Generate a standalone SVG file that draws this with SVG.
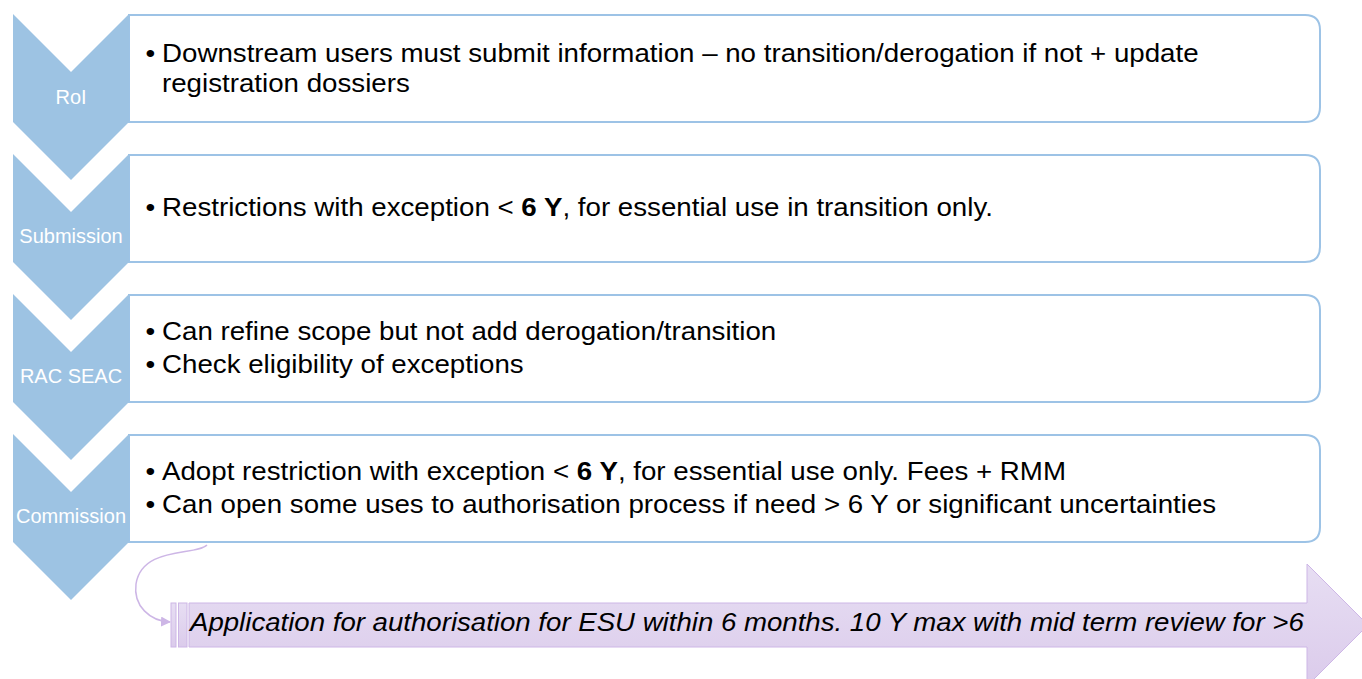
<svg xmlns="http://www.w3.org/2000/svg" width="1362" height="679" viewBox="0 0 1362 679">
<style>
.box{fill:#ffffff;stroke:#9DC3E6;stroke-width:2}
.chev{fill:#9DC3E3}
.lbl{font-family:"Liberation Sans",Arial,sans-serif;font-size:20px;fill:#ffffff;text-anchor:middle}
.t{font-family:"Liberation Sans",Arial,sans-serif;font-size:25px;fill:#000000}
.it{font-family:"Liberation Sans",Arial,sans-serif;font-size:25px;font-style:italic;fill:#000000}
.conn{fill:none;stroke:#CDB6E6;stroke-width:1.5}
</style>
<defs>
<linearGradient id="pg" x1="0" y1="0" x2="0" y2="1">
<stop offset="0" stop-color="#E7DEF3"/>
<stop offset="1" stop-color="#DBCBEB"/>
</linearGradient>
<marker id="ah" viewBox="0 0 10 10" refX="9" refY="5" markerWidth="10" markerHeight="10" markerUnits="userSpaceOnUse" orient="auto">
<path d="M0,0 L10,5 L0,10 Z" fill="#CDB6E6"/>
</marker>
</defs>

<g id="step-roi">
<path class="box" d="M129,15 H1305 Q1320,15 1320,30 V107 Q1320,122 1305,122 H129 Z"/>
<path class="chev" d="M13,14 L71,72 L129,14 L129,122 L71,180 L13,122 Z"/>
<text class="lbl" x="71" y="104">RoI</text>
<text class="t" transform="translate(145.5,62) scale(1.108,1)">•</text>
<text class="t" transform="translate(162,62) scale(1.108,1)">Downstream users must submit information – no transition/derogation if not + update</text>
<text class="t" transform="translate(162,92) scale(1.108,1)">registration dossiers</text>
</g>

<g id="step-submission">
<path class="box" d="M129,155 H1305 Q1320,155 1320,170 V247 Q1320,262 1305,262 H129 Z"/>
<path class="chev" d="M13,154 L71,212 L129,154 L129,262 L71,320 L13,262 Z"/>
<text class="lbl" x="71" y="243">Submission</text>
<text class="t" transform="translate(145.5,216) scale(1.108,1)">•</text>
<text class="t" transform="translate(162,216) scale(1.108,1)">Restrictions with exception &lt; <tspan font-weight="bold">6 Y</tspan>, for essential use in transition only.</text>
</g>

<g id="step-racseac">
<path class="box" d="M129,295 H1305 Q1320,295 1320,310 V387 Q1320,402 1305,402 H129 Z"/>
<path class="chev" d="M13,294 L71,352 L129,294 L129,402 L71,460 L13,402 Z"/>
<text class="lbl" x="71" y="383">RAC SEAC</text>
<text class="t" transform="translate(145.5,340) scale(1.108,1)">•</text>
<text class="t" transform="translate(162,340) scale(1.108,1)">Can refine scope but not add derogation/transition</text>
<text class="t" transform="translate(145.5,373) scale(1.108,1)">•</text>
<text class="t" transform="translate(162,373) scale(1.108,1)">Check eligibility of exceptions</text>
</g>

<g id="step-commission">
<path class="box" d="M129,435 H1305 Q1320,435 1320,450 V527 Q1320,542 1305,542 H129 Z"/>
<path class="chev" d="M13,434 L71,492 L129,434 L129,542 L71,600 L13,542 Z"/>
<text class="lbl" x="71" y="523">Commission</text>
<text class="t" transform="translate(145.5,480) scale(1.108,1)">•</text>
<text class="t" transform="translate(162,480) scale(1.108,1)">Adopt restriction with exception &lt; <tspan font-weight="bold">6 Y</tspan>, for essential use only. Fees + RMM</text>
<text class="t" transform="translate(145.5,513) scale(1.108,1)">•</text>
<text class="t" transform="translate(162,513) scale(1.108,1)">Can open some uses to authorisation process if need &gt; 6 Y or significant uncertainties</text>
</g>

<g id="authorisation-arrow">
<rect x="171" y="603" width="5" height="44" fill="url(#pg)" stroke="#CDB6E6" stroke-width="1"/>
<rect x="178.5" y="603" width="8.5" height="44" fill="url(#pg)" stroke="#CDB6E6" stroke-width="1"/>
<path d="M189,603 H1307 V564 L1368,625 L1307,686 V647 H189 Z" fill="url(#pg)" stroke="#CDB6E6" stroke-width="1"/>
<text class="it" transform="translate(190,631) scale(1.105,1)">Application for authorisation for ESU within 6 months. 10 Y max with mid term review for &gt;6</text>
</g>

<g id="connectors">
<path class="conn" d="M207,545 C196,556 142,546 136,584 C133,606 150,621 170,622" marker-end="url(#ah)"/>
</g>
</svg>
